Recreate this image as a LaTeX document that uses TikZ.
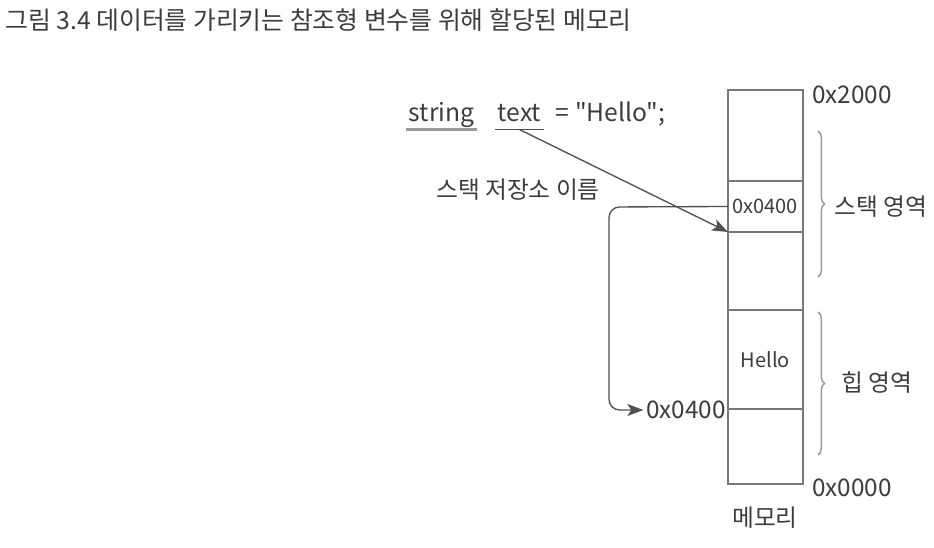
\documentclass[tikz,border=0pt]{standalone}
\usepackage{fontspec}
\setmainfont{Noto Sans CJK KR}
\newfontfamily\codefont{Noto Sans CJK KR}
\usetikzlibrary{decorations.pathreplacing,arrows.meta}
\definecolor{ln}{HTML}{787878}
\definecolor{ar}{HTML}{505050}
\definecolor{br}{HTML}{9A9A9A}
\definecolor{tx}{HTML}{3C3C3C}
\begin{document}
\begin{tikzpicture}[x=0.75pt,y=-0.75pt,
  cell/.style={draw=ln,line width=1.4pt,minimum width=56pt,inner sep=0pt,outer sep=0pt,anchor=north west,text=tx,font=\fontsize{15}{15}\selectfont},
  lbl/.style={text=tx,inner sep=0pt,font=\fontsize{18.2}{18.2}\selectfont},
  klbl/.style={text=tx,inner sep=0pt,font=\fontsize{17.8}{17.8}\selectfont},
  code/.style={text=tx,inner xsep=2pt,inner ysep=0pt,text height=12pt,text depth=5.5pt,anchor=base west,font=\codefont\fontsize{18.5}{18.5}\selectfont},
  arr/.style={draw=ar,line width=1pt,-{Stealth[length=12pt,width=9pt,inset=3pt]}},
  brc/.style={draw=br,line width=1.1pt,decorate,decoration={brace,amplitude=5pt}}
]
\useasboundingbox (0,0) rectangle (934,548);
% title
\node[text=tx,inner sep=0pt,font=\fontsize{18.6}{18.6}\selectfont,anchor=west] (title) at (5,20) {그림 3.4 데이터를 가리키는 참조형 변수를 위해 할당된 메모리};
% memory cells
\node[cell,minimum height=68.25pt] (c1) at (728,90) {};
\node[cell,minimum height=38.25pt] (c2) at (728,181) {0x0400};
\node[cell,minimum height=58.5pt] (c3) at (728,232) {};
\node[cell,minimum height=74.25pt] (c4) at (728,310) {Hello};
\node[cell,minimum height=56.25pt] (c5) at (728,409) {};
% address labels
\node[lbl,anchor=west] (a2000) at (812,95) {0x2000};
\node[lbl,anchor=west] (a0000) at (812,488) {0x0000};
\node[klbl] (mem) at (765,518) {메모리};
% braces
\draw[brc] (818,131) -- (818,277) coordinate[midway] (sb);
\node[klbl,anchor=west] (stack) at (834,207) {스택 영역};
\draw[brc] (818,312) -- (818,455) coordinate[midway] (hb);
\node[klbl,anchor=west] (heap) at (841,383) {힙 영역};
% code line
\node[code] (s) at (406,122) {string};
\node[code] (t) at (495,122) {text};
\node[code] (eq) at (553,122) {= "Hello";};
\draw[draw=br,line width=2pt] (s.south west) -- (s.south east);
\draw[draw=ar,line width=1pt] (t.south west) -- (t.south east);
\node[klbl,anchor=west] (name) at (436,190) {스택 저장소 이름};
% arrows
\draw[arr] (t.south) -- (c3.north west);
\node[lbl,anchor=west] (addr) at (646,410) {0x0400};
\coordinate (corner) at (609,207);
\draw[arr,rounded corners=8pt] (c2.west) -- (corner) |- ([xshift=-2pt]addr.west);
\end{tikzpicture}
\end{document}
